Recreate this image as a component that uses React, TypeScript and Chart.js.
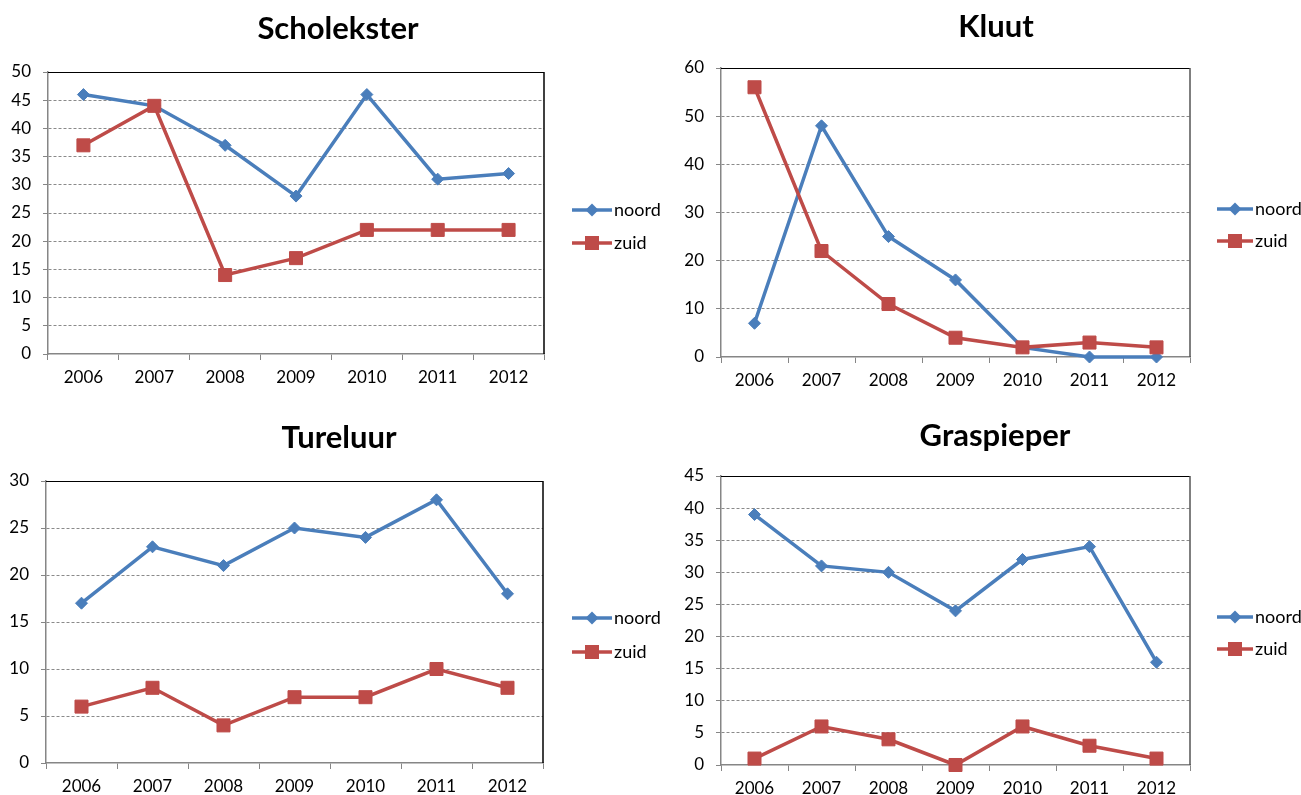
import React, { useEffect, useRef } from 'react';
import { Chart, registerables } from 'chart.js';

Chart.register(...registerables);

// ---- data ----
const years = ['2006', '2007', '2008', '2009', '2010', '2011', '2012'];
const seriesNames = ['noord', 'zuid'];
const titles = ['Scholekster', 'Kluut', 'Tureluur', 'Graspieper'];

const scholeksterNoord = [46, 44, 37, 28, 46, 31, 32];
const scholeksterZuid = [37, 44, 14, 17, 22, 22, 22];
const kluutNoord = [7, 48, 25, 16, 2, 0, 0];
const kluutZuid = [56, 22, 11, 4, 2, 3, 2];
const tureluurNoord = [17, 23, 21, 25, 24, 28, 18];
const tureluurZuid = [6, 8, 4, 7, 7, 10, 8];
const graspieperNoord = [39, 31, 30, 24, 32, 34, 16];
const graspieperZuid = [1, 6, 4, 0, 6, 3, 1];

const yMaxes = [50, 60, 30, 45];
const ySteps = [5, 10, 5, 5];

const panels = [
  { title: titles[0], noord: scholeksterNoord, zuid: scholeksterZuid, max: yMaxes[0], step: ySteps[0] },
  { title: titles[1], noord: kluutNoord, zuid: kluutZuid, max: yMaxes[1], step: ySteps[1] },
  { title: titles[2], noord: tureluurNoord, zuid: tureluurZuid, max: yMaxes[2], step: ySteps[2] },
  { title: titles[3], noord: graspieperNoord, zuid: graspieperZuid, max: yMaxes[3], step: ySteps[3] },
];

// ---- layout / style (page px) ----
const geometry = [
  { cx: 0, cy: 0, w: 700, h: 397, area: { l: 48, t: 72, r: 544, b: 354 }, titleX: 338, titleY: 39, legendX: 572, legendLine: 40, legendY: [210, 243], rightColor: '#000000' },
  { cx: 650, cy: 0, w: 651, h: 397, area: { l: 721, t: 68, r: 1190, b: 357 }, titleX: 996, titleY: 37, legendX: 1217, legendLine: 36, legendY: [209, 241], rightColor: '#555555' },
  { cx: 0, cy: 397, w: 700, h: 398, area: { l: 46, t: 481, r: 543, b: 763 }, titleX: 339, titleY: 448, legendX: 572, legendLine: 40, legendY: [618, 652], rightColor: '#000000' },
  { cx: 650, cy: 397, w: 651, h: 398, area: { l: 721, t: 476, r: 1190, b: 765 }, titleX: 995, titleY: 446, legendX: 1217, legendLine: 36, legendY: [617, 649], rightColor: '#555555' },
];

const BLUE = '#4A7EBB';
const RED = '#BE4B48';
const AXIS = '#868686';
const GRID = '#8a8a8a';
const FONT = 'Lato';
const X_AXIS_H = 40;

function drawMarker(ctx: CanvasRenderingContext2D, kind: string, x: number, y: number, color: string) {
  ctx.save();
  ctx.fillStyle = color;
  ctx.beginPath();
  if (kind === 'diamond') {
    const r = 6.5;
    ctx.moveTo(x - r, y);
    ctx.lineTo(x, y - r);
    ctx.lineTo(x + r, y);
    ctx.lineTo(x, y + r);
    ctx.closePath();
  } else {
    const s = 7;
    ctx.rect(x - s, y - s, 2 * s, 2 * s);
  }
  ctx.fill();
  ctx.restore();
}

function ChartPanel({ p, g }: { p: any; g: any }) {
  const ref = useRef<HTMLCanvasElement>(null);

  useEffect(() => {
    const colors = [BLUE, RED];
    const markers = ['diamond', 'square'];

    const decor = {
      id: 'decor',
      beforeDatasetsDraw(chart: any) {
        const { ctx, chartArea: a } = chart;
        ctx.save();
        ctx.lineWidth = 1;
        ctx.strokeStyle = '#000000';
        ctx.beginPath();
        ctx.moveTo(a.left, a.top + 0.5);
        ctx.lineTo(a.right, a.top + 0.5);
        ctx.stroke();
        ctx.strokeStyle = g.rightColor;
        ctx.lineWidth = 1.5;
        ctx.beginPath();
        ctx.moveTo(a.right, a.top);
        ctx.lineTo(a.right, a.bottom);
        ctx.stroke();
        ctx.restore();
      },
      afterDraw(chart: any) {
        const ctx = chart.ctx as CanvasRenderingContext2D;
        ctx.save();
        // title
        ctx.fillStyle = '#000000';
        ctx.font = `bold 31px ${FONT}`;
        ctx.textAlign = 'center';
        ctx.textBaseline = 'alphabetic';
        ctx.fillText(p.title, g.titleX - g.cx, g.titleY - g.cy);
        // legend
        ctx.font = `18px ${FONT}`;
        ctx.textAlign = 'left';
        ctx.textBaseline = 'middle';
        chart.data.datasets.forEach((ds: any, i: number) => {
          const y = g.legendY[i] - g.cy;
          const x0 = g.legendX - g.cx;
          ctx.strokeStyle = colors[i];
          ctx.lineWidth = 3.5;
          ctx.beginPath();
          ctx.moveTo(x0, y);
          ctx.lineTo(x0 + g.legendLine, y);
          ctx.stroke();
          drawMarker(ctx, markers[i], x0 + g.legendLine / 2, y, colors[i]);
          ctx.fillStyle = '#000000';
          ctx.fillText(ds.label, x0 + g.legendLine + 2, y);
        });
        ctx.restore();
      },
    };

    const tickFont = { family: FONT, size: 17 };

    const chart = new Chart(ref.current as HTMLCanvasElement, {
      type: 'line',
      data: {
        labels: years,
        datasets: [
          {
            label: seriesNames[0],
            data: p.noord,
            borderColor: BLUE,
            backgroundColor: BLUE,
            pointBackgroundColor: BLUE,
            pointBorderColor: BLUE,
            pointStyle: 'rectRot',
            pointRadius: 6,
            pointBorderWidth: 1,
            borderWidth: 3.5,
            tension: 0,
            clip: false as any,
            order: 1,
          },
          {
            label: seriesNames[1],
            data: p.zuid,
            borderColor: RED,
            backgroundColor: RED,
            pointBackgroundColor: RED,
            pointBorderColor: RED,
            pointStyle: 'rect',
            pointRadius: 9.2,
            pointBorderWidth: 1,
            borderWidth: 3.5,
            tension: 0,
            clip: false as any,
            order: 0,
          },
        ],
      },
      options: {
        responsive: false,
        animation: false,
        events: [],
        layout: {
          autoPadding: false,
          padding: {
            left: 0,
            top: g.area.t - g.cy,
            right: g.cx + g.w - g.area.r,
            bottom: g.cy + g.h - g.area.b - X_AXIS_H,
          },
        },
        plugins: {
          legend: { display: false },
          title: { display: false },
          tooltip: { enabled: false },
        },
        scales: {
          x: {
            offset: true,
            grid: {
              offset: true,
              drawOnChartArea: false,
              tickLength: 6,
              tickColor: AXIS,
              tickWidth: 1,
              color: AXIS,
            },
            border: { color: AXIS, width: 1.5 },
            ticks: { color: '#000000', font: tickFont, padding: 7, maxRotation: 0, autoSkip: false },
            afterFit: (s: any) => {
              s.height = X_AXIS_H;
            },
          },
          y: {
            min: 0,
            max: p.max,
            ticks: { stepSize: p.step, color: '#000000', font: tickFont, padding: 12 },
            grid: {
              color: (c: any) =>
                c.tick && (c.tick.value === 0 || c.tick.value === p.max) ? 'rgba(0,0,0,0)' : GRID,
              lineWidth: 1,
              tickLength: 5,
              tickColor: AXIS,
              tickWidth: 1,
            },
            border: { color: AXIS, width: 1.5, dash: [3, 2] },
            afterFit: (s: any) => {
              s.width = g.area.l - g.cx;
            },
          },
        },
      },
      plugins: [decor],
    } as any);

    return () => chart.destroy();
  }, []);

  return (
    <canvas
      ref={ref}
      width={g.w}
      height={g.h}
      style={{ position: 'absolute', left: g.cx, top: g.cy, width: g.w, height: g.h }}
    />
  );
}

export default function App() {
  return (
    <div style={{ position: 'absolute', left: 0, top: 0, width: 1301, height: 795, background: '#ffffff' }}>
      {panels.map((p, i) => (
        <ChartPanel key={i} p={p} g={geometry[i]} />
      ))}
    </div>
  );
}
